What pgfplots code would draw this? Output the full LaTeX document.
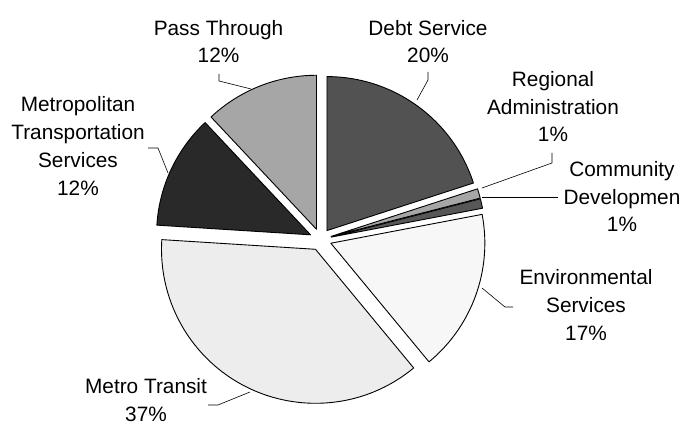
\documentclass[border=0pt]{standalone}
\usepackage{pgfplots}
\pgfplotsset{compat=1.18}
\usepackage{fontspec}
\setmainfont{Liberation Sans}
\begin{document}
\begin{tikzpicture}
\gdef\cumangle{90}
% value, fill colour
\newcommand\slice[2]{%
  \pgfmathsetmacro\sa{\cumangle}%
  \pgfmathsetmacro\ea{\cumangle-3.6*#1}%
  \pgfmathsetmacro\ma{(\sa+\ea)/2}%
  \xdef\cumangle{\ea}%
  \edef\temp{\noexpand\filldraw[fill=#2, draw=black, line width=0.9pt, line join=round]
    ([shift={(\ma:11pt)}]axis cs:320.5,185.5) -- ++(\sa:154pt)
    arc[start angle=\sa, end angle=\ea, radius=154pt] -- cycle;}%
  \temp}
\begin{axis}[hide axis, scale only axis, width=683pt, height=425pt,
  xmin=0, xmax=683, ymin=0, ymax=425, clip=false]
\slice{20}{black!68}% Debt Service
\slice{1}{black!35}%  Regional Administration
\slice{1}{black!66}%  Community Development
\slice{17}{black!3}%  Environmental Services
\slice{37}{black!7}%  Metro Transit
\slice{12}{black!84}% Metropolitan Transportation Services
\slice{12}{black!35}% Pass Through
\tikzset{lbl/.style={align=center, inner sep=0pt, font=\fontsize{20.8}{27.8}\selectfont}}
\tikzset{ld/.style={draw=black, line width=0.6pt}}
\node[lbl] at (axis cs:78,279) {Metropolitan\\Transportation\\Services\\12\%};
\node[lbl] at (axis cs:218.5,383.5) {Pass Through\\12\%};
\node[lbl] at (axis cs:428,383.5) {Debt Service\\20\%};
\node[lbl] at (axis cs:553,318.3) {Regional\\Administration\\1\%};
\node[lbl] at (axis cs:622,228.3) {Community\\Developmen\\1\%};
\node[lbl] at (axis cs:586,119.7) {Environmental\\Services\\17\%};
\node[lbl] at (axis cs:146,25) {Metro Transit\\37\%};
\draw[ld] (axis cs:148,277) -- (axis cs:158,277) -- (axis cs:168,252);
\draw[ld] (axis cs:219,351) -- (axis cs:219,344) -- (axis cs:251,336);
\draw[ld] (axis cs:428,353) -- (axis cs:428,345) -- (axis cs:417,325);
\draw[ld] (axis cs:552,272) -- (axis cs:552,262) -- (axis cs:482,237);
\draw[ld] (axis cs:482,228) -- (axis cs:558,228);
\draw[ld] (axis cs:513,118) -- (axis cs:505,118) -- (axis cs:482,137);
\draw[ld] (axis cs:208,20) -- (axis cs:218,20) -- (axis cs:250,33);
\end{axis}
\pgfresetboundingbox
\path (0,0) rectangle (683pt,425pt);
\end{tikzpicture}
\end{document}
